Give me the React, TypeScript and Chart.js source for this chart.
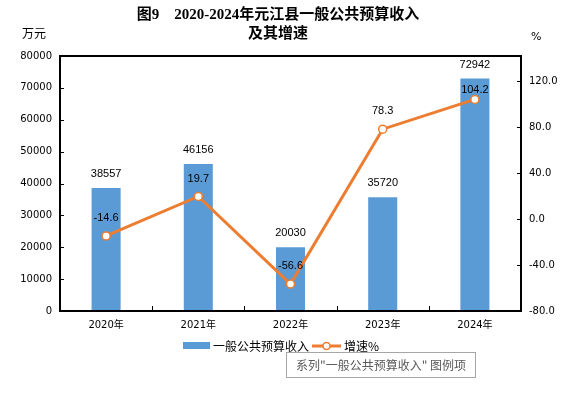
import React, { useEffect, useRef } from "react";
import { Chart, registerables } from "chart.js";

Chart.register(...registerables);

const categories = ["2020年", "2021年", "2022年", "2023年", "2024年"];
const revenue = [38557, 46156, 20030, 35720, 72942];
const growth = [-14.6, 19.7, -56.6, 78.3, 104.2];
const leftTicks = [0, 10000, 20000, 30000, 40000, 50000, 60000, 70000, 80000];
const rightTicks = [-80, -40, 0, 40, 80, 120];
const titleLines = ["图9　2020-2024年元江县一般公共预算收入", "及其增速"];
const revenueName = "一般公共预算收入";
const growthName = "增速%";
const tipText = "系列\"一般公共预算收入\" 图例项";

const BAR = "#5B9BD5";
const LINE = "#ED7D31";
const NUM_FONT = '11px "Liberation Sans", Arial, sans-serif';
const TICK_FONT_FAMILY = '"DejaVu Sans", "Noto Sans CJK SC", sans-serif';
const CJK = '"Noto Sans CJK SC", sans-serif';

const overlay = {
  id: "overlay",
  afterDraw(chart: any) {
    const ctx = chart.ctx as CanvasRenderingContext2D;
    const a = chart.chartArea;
    const xs = chart.scales.x;
    const ys = chart.scales.y;
    const y1 = chart.scales.y1;
    ctx.save();

    // frame
    ctx.strokeStyle = "#000";
    ctx.lineWidth = 2;
    ctx.strokeRect(a.left, a.top, a.right - a.left, a.bottom - a.top);
    ctx.lineWidth = 1;
    ctx.beginPath();
    leftTicks.forEach((v) => {
      const y = Math.round(ys.getPixelForValue(v)) + 0.5;
      ctx.moveTo(a.left, y);
      ctx.lineTo(a.left + 4, y);
    });
    rightTicks.forEach((v) => {
      const y = Math.round(y1.getPixelForValue(v)) + 0.5;
      ctx.moveTo(a.right - 4, y);
      ctx.lineTo(a.right, y);
    });
    for (let i = 1; i < categories.length; i++) {
      const x = Math.round((xs.getPixelForValue(i - 1) + xs.getPixelForValue(i)) / 2) + 0.5;
      ctx.moveTo(x, a.bottom);
      ctx.lineTo(x, a.bottom - 5);
    }
    ctx.stroke();

    // title
    ctx.fillStyle = "#000";
    ctx.textAlign = "center";
    ctx.textBaseline = "middle";
    ctx.font = 'bold 15px "Liberation Serif", "Noto Sans CJK SC", serif';
    ctx.fillText(titleLines[0], 278, 15);
    ctx.fillText(titleLines[1], 278, 34);

    // units
    ctx.font = "12px " + CJK;
    ctx.textAlign = "left";
    ctx.fillText("万元", 22, 33);
    ctx.font = '11px "DejaVu Sans", sans-serif';
    ctx.fillText("%", 531, 37);

    // data labels
    ctx.font = NUM_FONT;
    ctx.textAlign = "center";
    ctx.fillStyle = "#000";
    const barMeta = chart.getDatasetMeta(0);
    barMeta.data.forEach((el: any, i: number) => {
      ctx.fillText(String(revenue[i]), el.x, el.y - 14);
    });
    const lineMeta = chart.getDatasetMeta(1);
    lineMeta.data.forEach((el: any, i: number) => {
      const off = i === growth.length - 1 ? 9 : 18;
      ctx.fillText(growth[i].toFixed(1), el.x, el.y - off);
    });

    // legend
    ctx.fillStyle = BAR;
    ctx.fillRect(183, 342, 27, 7);
    ctx.fillStyle = "#000";
    ctx.font = "12px " + CJK;
    ctx.textAlign = "left";
    ctx.fillText(revenueName, 213, 346);
    ctx.strokeStyle = LINE;
    ctx.lineWidth = 3;
    ctx.beginPath();
    ctx.moveTo(312, 346);
    ctx.lineTo(341, 346);
    ctx.stroke();
    ctx.beginPath();
    ctx.arc(326.5, 346, 3.5, 0, Math.PI * 2);
    ctx.fillStyle = "#fff";
    ctx.fill();
    ctx.lineWidth = 1.5;
    ctx.stroke();
    ctx.fillStyle = "#000";
    ctx.fillText(growthName, 344, 346);

    // hover tip box
    ctx.fillStyle = "#fff";
    ctx.fillRect(286.5, 352.5, 189, 25);
    ctx.strokeStyle = "#A6A6A6";
    ctx.lineWidth = 1;
    ctx.strokeRect(286.5, 352.5, 189, 25);
    ctx.fillStyle = "#595959";
    ctx.textAlign = "center";
    ctx.fillText(tipText, 381, 365);

    ctx.restore();
  },
};

export default function App() {
  const ref = useRef<HTMLCanvasElement>(null);
  useEffect(() => {
    const chart = new Chart(ref.current as HTMLCanvasElement, {
      type: "bar",
      data: {
        labels: categories,
        datasets: [
          {
            type: "bar",
            label: revenueName,
            data: revenue,
            backgroundColor: BAR,
            yAxisID: "y",
            barPercentage: 0.315,
            categoryPercentage: 1,
            order: 2,
          } as any,
          {
            type: "line",
            label: growthName,
            data: growth,
            borderColor: LINE,
            borderWidth: 3,
            pointRadius: 4,
            pointBorderWidth: 1.5,
            pointBackgroundColor: "#fff",
            pointBorderColor: LINE,
            yAxisID: "y1",
            tension: 0,
            order: 1,
          } as any,
        ],
      },
      options: {
        responsive: false,
        animation: false,
        layout: { padding: { top: 56, left: 0, right: 0, bottom: 0 } },
        plugins: {
          legend: { display: false },
          title: { display: false },
          tooltip: { enabled: false },
        },
        scales: {
          x: {
            grid: { display: false, drawTicks: false },
            border: { display: false },
            ticks: { color: "#000", padding: 8, font: { family: TICK_FONT_FAMILY, size: 10 } },
            afterFit: (s: any) => {
              s.height = 84;
            },
          },
          y: {
            position: "left",
            min: 0,
            max: 80000,
            grid: { display: false, drawTicks: false },
            border: { display: false },
            ticks: {
              stepSize: 10000,
              color: "#000",
              padding: 8,
              font: { family: TICK_FONT_FAMILY, size: 10 },
              callback: (v: any) => String(v),
            },
            afterBuildTicks: (s: any) => {
              s.ticks = leftTicks.map((v) => ({ value: v }));
            },
            afterFit: (s: any) => {
              s.width = 60;
            },
          },
          y1: {
            position: "right",
            min: -80,
            max: 142,
            grid: { display: false, drawTicks: false },
            border: { display: false },
            ticks: {
              color: "#000",
              padding: 8,
              font: { family: TICK_FONT_FAMILY, size: 10 },
              callback: (v: any) => Number(v).toFixed(1),
            },
            afterBuildTicks: (s: any) => {
              s.ticks = rightTicks.map((v) => ({ value: v }));
            },
            afterFit: (s: any) => {
              s.width = 58;
            },
          },
        },
      } as any,
      plugins: [overlay],
    });
    return () => chart.destroy();
  }, []);
  return (
    <div style={{ position: "fixed", left: 0, top: 0, width: 579, height: 395, background: "#fff" }}>
      <canvas ref={ref} width={579} height={395} />
    </div>
  );
}
